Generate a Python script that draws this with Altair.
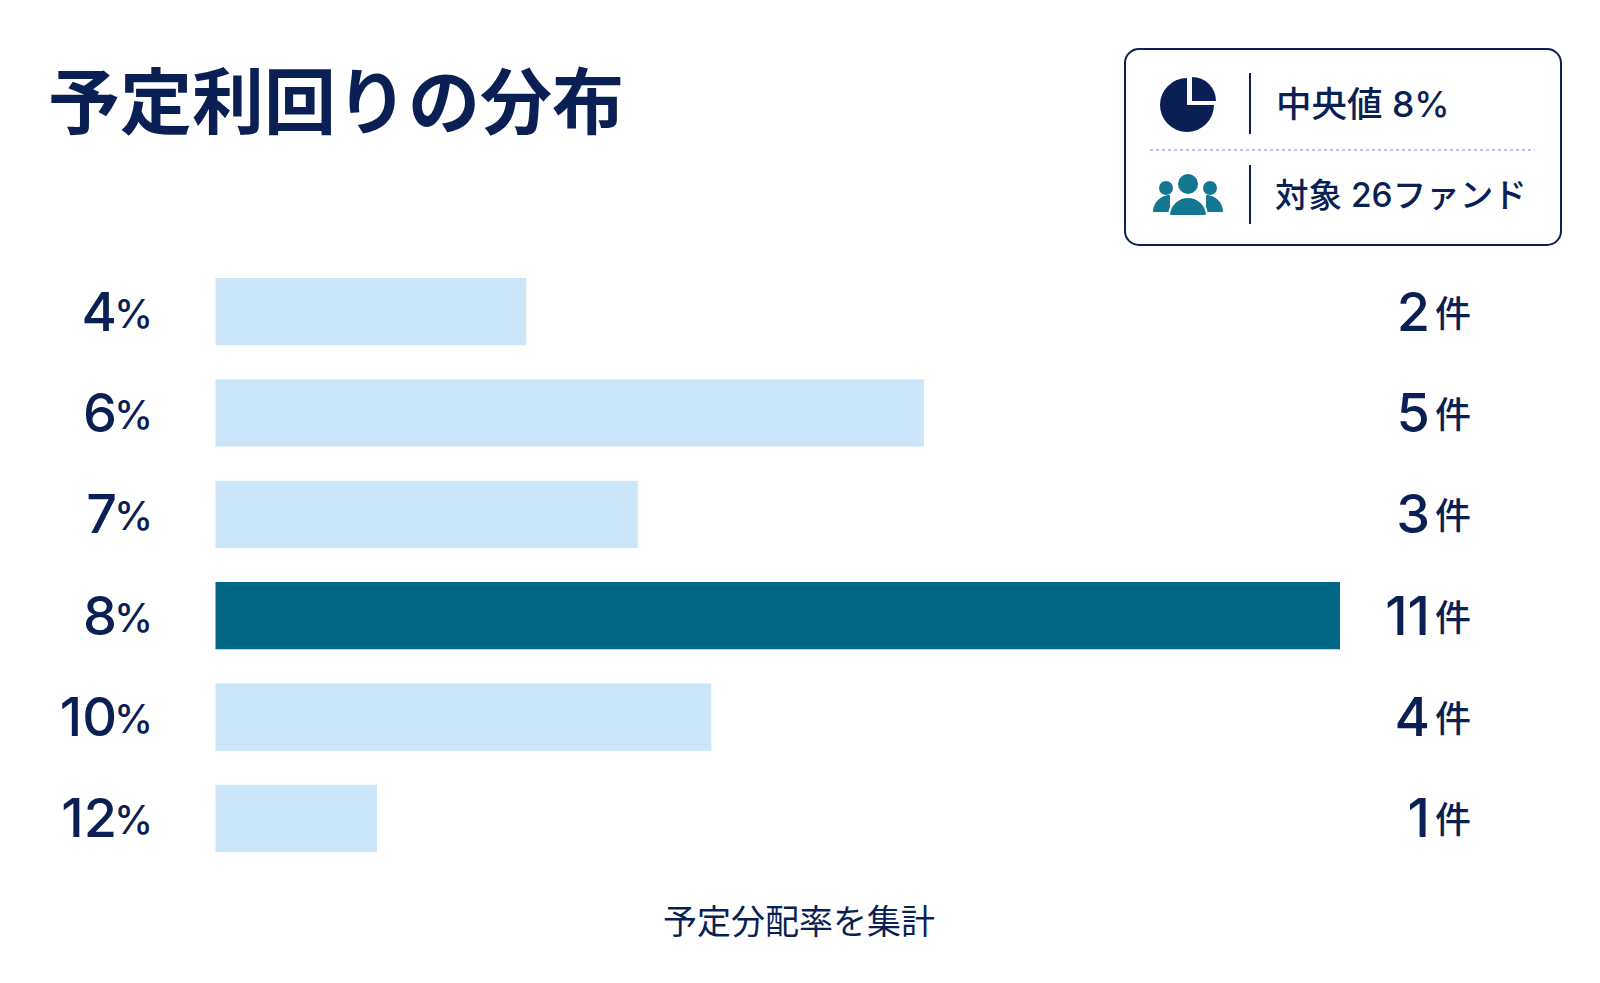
import math
import altair as alt
import pandas as pd

rates = ["4", "6", "7", "8", "10", "12"]
counts = ["2", "5", "3", "11", "4", "1"]
bar_lengths = [3.04, 6.93, 4.13, 11.0, 4.85, 1.58]
highlight = [False, False, False, True, False, False]

TITLE = "予定利回りの分布"
FOOT = "予定分配率を集計"
KPI1 = "中央値 8%"
KPI2 = "対象 26ファンド"

NAVY = "#0a1f54"
LIGHT = "#cce6f9"
DARK = "#006684"
TEAL = "#137791"
JP = "Noto Sans CJK JP"
MIX = "Inter, Noto Sans CJK JP"
PI = math.pi

df = pd.DataFrame({"rate": rates, "count": counts, "len": bar_lengths, "hi": highlight})
base = alt.Chart(df)
single = alt.Chart(pd.DataFrame({"k": [0]}))

Y = alt.Y("rate:N", sort=rates, axis=None,
          scale=alt.Scale(range=[270, 844], paddingInner=0.337, paddingOuter=0))

bars = base.mark_bar().encode(
    x=alt.X("len:Q", axis=None, scale=alt.Scale(domain=[0, 11], range=[207.5, 1332])),
    y=Y,
    color=alt.Color("hi:N", legend=None,
                    scale=alt.Scale(domain=[False, True], range=[LIGHT, DARK])),
)


def row_text(field, xpos, size, suffix=None, weight=500, dy=0, font=MIX):
    enc = {"y": Y, "x": alt.value(xpos)}
    if suffix:
        enc["text"] = alt.value(suffix)
    else:
        enc["text"] = alt.Text(field + ":N")
    return base.mark_text(align="right", baseline="middle", font=font, fontSize=size,
                          fontWeight=weight, color=NAVY, dy=dy).encode(**enc)


rate_num = row_text("rate", 109, 54, dy=3)
rate_pct = row_text("rate", 145, 39, suffix="%", dy=4)
count_num = row_text("count", 1422, 54, dy=3)
count_unit = row_text("count", 1463, 36, suffix="件", dy=4, font=JP)


def txt(text, x, y, size, weight=500, align="left", font=MIX):
    return single.mark_text(font=font, fontSize=size, fontWeight=weight, color=NAVY,
                            align=align, baseline="middle").encode(
        x=alt.value(x - 8), y=alt.value(y - 8), text=alt.value(text))


def arc(cx, cy, r, t0, t1, color, stroke=None):
    props = dict(fill=color)
    if stroke:
        props.update(stroke=stroke, strokeWidth=2)
    return single.mark_arc(**props).encode(
        x=alt.value(cx - 8), y=alt.value(cy - 8),
        radius=alt.value(r), theta=alt.value(t0), theta2=alt.value(t1))


def rule(x0, y0, x1, y1, color, width, dash=None):
    props = dict(color=color, strokeWidth=width)
    if dash:
        props["strokeDash"] = dash
    return single.mark_rule(**props).encode(
        x=alt.value(x0 - 8), x2=alt.value(x1 - 8),
        y=alt.value(y0 - 8), y2=alt.value(y1 - 8))


panel = single.mark_rect(fill="white", stroke=NAVY, strokeWidth=2, cornerRadius=14).encode(
    x=alt.value(1125 - 8), x2=alt.value(1561 - 8),
    y=alt.value(49 - 8), y2=alt.value(245 - 8))

layers = [
    bars, rate_num, rate_pct, count_num, count_unit,
    txt(TITLE, 48, 106, 72, weight=700, font=JP),
    txt(FOOT, 799, 924, 34, weight=400, align="center", font=JP),
    panel,
    arc(1187, 105, 27, PI / 2, 2 * PI, NAVY),
    arc(1192, 101, 24, 0, PI / 2, NAVY),
    rule(1250, 73, 1250, 134, NAVY, 2),
    rule(1250, 165, 1250, 224, NAVY, 2),
    rule(1150, 150, 1535, 150, "#b5c6de", 2, dash=[3, 3]),
    txt(KPI1, 1276, 106, 35.5),
    txt(KPI2, 1275, 197, 33.5),
    arc(1170, 212, 17, 3 * PI / 2, 2 * PI, TEAL),
    arc(1206, 212, 17, 0, PI / 2, TEAL),
    arc(1188, 216, 19, 3 * PI / 2, 5 * PI / 2, TEAL, stroke="white"),
    arc(1166, 188, 7, 0, 2 * PI, TEAL),
    arc(1210, 188, 7, 0, 2 * PI, TEAL),
    arc(1188, 184, 10, 0, 2 * PI, TEAL),
]

chart = alt.layer(*layers).properties(
    width=1584, height=960, padding=0, autosize=alt.AutoSizeParams(type="none"),
    background="white",
).configure_view(stroke=None)

chart.save("out.html", embed_options={"renderer": "svg", "actions": False})
